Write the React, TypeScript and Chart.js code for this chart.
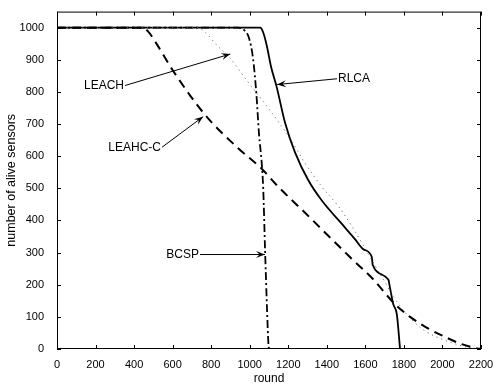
import React, { useEffect, useRef } from "react";
import { Chart, registerables } from "chart.js";

Chart.register(...registerables);

// ---- data ----
const rlcaRounds = [0, 1054, 1070, 1090, 1110, 1140, 1183, 1235, 1304, 1374, 1477, 1546, 1590, 1633, 1638, 1719, 1728, 1745, 1763, 1780];
const rlcaAlive = [1000, 1000, 985, 940, 880, 815, 705, 612, 525, 462, 390, 342, 310, 287, 262, 216, 190, 139, 109, 0];

const leachRounds = [0, 726, 770, 830, 898, 986, 1097, 1148, 1218, 1287, 1374, 1460, 1529, 1590, 1640, 1700, 1750, 1800, 1900, 2000, 2100, 2170];
const leachAlive = [1000, 1000, 985, 945, 905, 835, 749, 708, 647, 578, 505, 444, 383, 322, 270, 210, 160, 118, 60, 30, 10, 0];

const leahcRounds = [0, 440, 470, 509, 602, 768, 934, 1062, 1148, 1287, 1425, 1529, 1642, 1754, 1832, 1920, 2005, 2100, 2180, 2200];
const leahcAlive = [1000, 1000, 990, 957, 866, 729, 628, 561, 505, 424, 342, 281, 216, 139, 100, 66, 40, 15, 2, 0];

const bcspRounds = [0, 940, 975, 995, 1017, 1035, 1048, 1062, 1070, 1080, 1090, 1097, 1100];
const bcspAlive = [1000, 1000, 990, 970, 905, 790, 670, 580, 500, 300, 120, 15, 0];

const xTicks = [0, 200, 400, 600, 800, 1000, 1200, 1400, 1600, 1800, 2000, 2200];
const yTicks = [0, 100, 200, 300, 400, 500, 600, 700, 800, 900, 1000];

// annotation labels: text, tail (round, alive), head (round, alive)
const labelTexts = ["LEACH", "LEAHC-C", "RLCA", "BCSP"];
const labelTailRounds = [353, 545, 1453, 742];
const labelTailAlive = [820, 628, 841, 294];
const labelHeadRounds = [899, 758, 1142, 1079];
const labelHeadAlive = [918, 723, 823, 294];

const toPts = (xs: number[], ys: number[]) => xs.map((x, i) => ({ x, y: ys[i] }));

export default function App() {
  const ref = useRef<HTMLCanvasElement | null>(null);

  useEffect(() => {
    document.body.style.margin = "0";
    const canvas = ref.current!;
    const FONT = "'Liberation Sans', Arial, sans-serif";

    const framePlugin = {
      id: "frame",
      afterDraw(chart: any) {
        const ctx = chart.ctx;
        const { left, right, top, bottom } = chart.chartArea;
        const xs = chart.scales.x;
        const ys = chart.scales.y;
        ctx.save();
        ctx.strokeStyle = "#000";
        ctx.lineWidth = 1;
        ctx.strokeRect(left + 0.5, top + 0.5, right - left - 1, bottom - top - 1);
        // inward ticks
        const tl = 4;
        ctx.beginPath();
        xTicks.forEach((v) => {
          const px = Math.round(xs.getPixelForValue(v)) + 0.5;
          ctx.moveTo(px, bottom);
          ctx.lineTo(px, bottom - tl);
          ctx.moveTo(px, top);
          ctx.lineTo(px, top + tl);
        });
        yTicks.forEach((v) => {
          const py = Math.round(ys.getPixelForValue(v)) + 0.5;
          ctx.moveTo(left, py);
          ctx.lineTo(left + tl, py);
          ctx.moveTo(right, py);
          ctx.lineTo(right - tl, py);
        });
        ctx.stroke();

        // annotations
        ctx.font = "12px " + FONT;
        ctx.fillStyle = "#000";
        ctx.textBaseline = "middle";
        labelTexts.forEach((t, i) => {
          const tx = xs.getPixelForValue(labelTailRounds[i]);
          const ty = ys.getPixelForValue(labelTailAlive[i]);
          const hx = xs.getPixelForValue(labelHeadRounds[i]);
          const hy = ys.getPixelForValue(labelHeadAlive[i]);
          const leftSide = tx < hx;
          ctx.textAlign = leftSide ? "right" : "left";
          ctx.fillText(t, leftSide ? tx - 1 : tx + 1, ty);
          ctx.beginPath();
          ctx.lineWidth = 1;
          ctx.moveTo(tx, ty);
          ctx.lineTo(hx, hy);
          ctx.stroke();
          const ang = Math.atan2(hy - ty, hx - tx);
          const L = 9, W = 3.5;
          const bx = hx - L * Math.cos(ang);
          const by = hy - L * Math.sin(ang);
          ctx.beginPath();
          ctx.moveTo(hx, hy);
          ctx.lineTo(bx + W * Math.sin(ang), by - W * Math.cos(ang));
          ctx.lineTo(hx - 0.6 * L * Math.cos(ang), hy - 0.6 * L * Math.sin(ang));
          ctx.lineTo(bx - W * Math.sin(ang), by + W * Math.cos(ang));
          ctx.closePath();
          ctx.fill();
        });
        ctx.restore();
      },
    };

    const common = { pointRadius: 0, fill: false, cubicInterpolationMode: "monotone" as const, borderColor: "#000" };

    const chart = new Chart(canvas, {
      type: "line",
      data: {
        datasets: [
          { ...common, label: "LEAHC-C", data: toPts(leahcRounds, leahcAlive), borderWidth: 2, borderDash: [9, 6] },
          { ...common, label: "LEACH", data: toPts(leachRounds, leachAlive), borderWidth: 1, borderDash: [1, 4], borderColor: "#555" },
          { ...common, label: "BCSP", data: toPts(bcspRounds, bcspAlive), borderWidth: 1.8, borderDash: [8, 3, 2, 3] },
          { ...common, label: "RLCA", data: toPts(rlcaRounds, rlcaAlive), borderWidth: 1.8 },
        ],
      },
      options: {
        animation: false,
        responsive: false,
        devicePixelRatio: 1,
        layout: { padding: { left: 0, top: 5, right: 15, bottom: 0 } },
        plugins: { legend: { display: false }, tooltip: { enabled: false } },
        scales: {
          x: {
            type: "linear",
            min: 0,
            max: 2200,
            grid: { display: false },
            border: { display: false },
            afterBuildTicks: (s: any) => {
              s.ticks = xTicks.map((v) => ({ value: v }));
            },
            afterFit: (s: any) => {
              s.height = 37;
            },
            ticks: { color: "#000", padding: 1, maxRotation: 0, autoSkip: false, font: { family: FONT, size: 11 }, callback: (v: any) => String(v) },
            title: { display: true, text: "round", color: "#000", padding: { top: 1, bottom: 0 }, font: { family: FONT, size: 12 } },
          },
          y: {
            type: "linear",
            min: 0,
            max: 1050,
            grid: { display: false },
            border: { display: false },
            afterBuildTicks: (s: any) => {
              s.ticks = yTicks.map((v) => ({ value: v }));
            },
            afterFit: (s: any) => {
              s.width = 57;
            },
            ticks: { color: "#000", padding: 5, autoSkip: false, font: { family: FONT, size: 11 }, callback: (v: any) => String(v) },
            title: { display: true, text: "number of alive sensors", color: "#000", padding: { top: 4, bottom: 0 }, font: { family: FONT, size: 12.5 } },
          },
        },
      },
      plugins: [framePlugin],
    });
    return () => chart.destroy();
  }, []);

  return <canvas ref={ref} width={496} height={386} style={{ display: "block", width: 496, height: 386 }} />;
}
